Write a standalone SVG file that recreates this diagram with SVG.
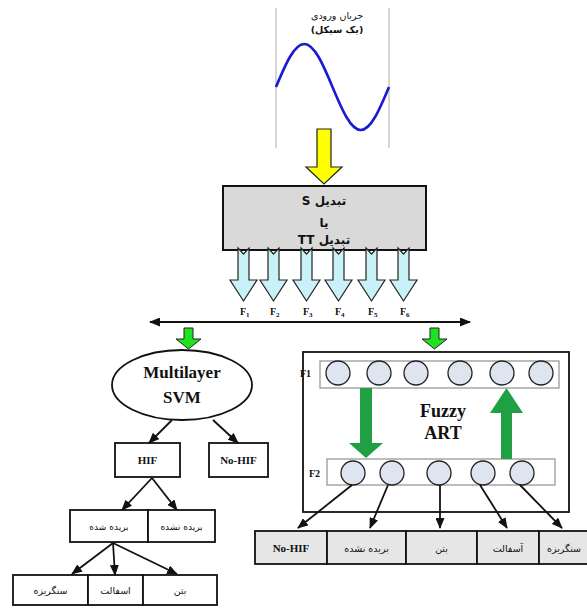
<svg xmlns="http://www.w3.org/2000/svg" width="587" height="609" viewBox="0 0 587 609">
<style>
.lat{font-family:"Liberation Serif","Times New Roman",serif;font-weight:bold;fill:#111}
.fa{font-family:"DejaVu Sans","Noto Sans",sans-serif;fill:#111}
.box{fill:#fff;stroke:#111;stroke-width:1.8}
.gbox{fill:#e6e6e6;stroke:#111;stroke-width:1.8}
.conn{stroke:#111;stroke-width:1.8;fill:none}
.circ{fill:#dfe5f0;stroke:#222;stroke-width:1.3}
.strip{fill:#fff;stroke:#999;stroke-width:1.3}
.barrow{fill:#c9f1f8;stroke:#222;stroke-width:1.2}
.garrow{fill:#22e022;stroke:#222;stroke-width:1}
.bigg{fill:#1fa143}
</style>
<defs>
<marker id="ah" markerWidth="11" markerHeight="9" refX="10" refY="4.5" orient="auto" markerUnits="userSpaceOnUse">
<path d="M0,0 L11,4.5 L0,9 Z" fill="#111"/>
</marker>
<marker id="ahs" markerWidth="11" markerHeight="9" refX="1" refY="4.5" orient="auto" markerUnits="userSpaceOnUse">
<path d="M11,0 L0,4.5 L11,9 Z" fill="#111"/>
</marker>
</defs>
<rect width="587" height="609" fill="#fff"/>

<g id="input">
<line x1="276" y1="8" x2="276" y2="148" stroke="#bbb" stroke-width="1.2"/>
<line x1="389" y1="8" x2="389" y2="148" stroke="#bbb" stroke-width="1.2"/>
<path d="M276,87 C285.21,64.97 294.03,44 304.25,44 C314.47,44 323.29,64.97 332.5,87 C341.71,109.03 350.53,130 360.75,130 C370.97,130 379.79,109.03 389,87" fill="none" stroke="#1a1ad0" stroke-width="2.6"/>
<text class="fa" x="337" y="19" font-size="9.5" text-anchor="middle" direction="rtl">جریان ورودی</text>
<text class="fa" x="337" y="33" font-size="9.5" font-weight="bold" text-anchor="middle" direction="rtl">(یک سیکل)</text>
</g>

<g id="yellow-arrow">
<path d="M317,129 L331,129 L331,167 L342,167 L324,184 L306,167 L317,167 Z" fill="#ffff00" stroke="#222" stroke-width="1.2"/>
</g>

<g id="transform">
<rect x="223" y="186" width="203" height="64" fill="#d9d9d9" stroke="#111" stroke-width="2"/>
<text class="fa" x="324" y="205" font-size="12" font-weight="bold" text-anchor="middle" direction="rtl">تبدیل S</text>
<text class="fa" x="324" y="227" font-size="12" font-weight="bold" text-anchor="middle" direction="rtl">یا</text>
<text class="fa" x="324" y="244" font-size="12" font-weight="bold" text-anchor="middle" direction="rtl">تبدیل TT</text>
</g>

<g id="features">
<g class="barrow">
<path d="M238,248 L243.5,254 L249,248 L249,280 L257,280 L243.5,301 L230,280 L238,280 Z"/>
<path d="M268,248 L273.5,254 L279,248 L279,280 L287,280 L273.5,301 L260,280 L268,280 Z"/>
<path d="M301,248 L306.5,254 L312,248 L312,280 L320,280 L306.5,301 L293,280 L301,280 Z"/>
<path d="M333,248 L338.5,254 L344,248 L344,280 L352,280 L338.5,301 L325,280 L333,280 Z"/>
<path d="M366,248 L371.5,254 L377,248 L377,280 L385,280 L371.5,301 L358,280 L366,280 Z"/>
<path d="M398,248 L403.5,254 L409,248 L409,280 L417,280 L403.5,301 L390,280 L398,280 Z"/>
</g>
<text class="lat" x="240" y="315" font-size="10">F<tspan font-size="7" dy="2">1</tspan></text>
<text class="lat" x="270" y="315" font-size="10">F<tspan font-size="7" dy="2">2</tspan></text>
<text class="lat" x="303" y="315" font-size="10">F<tspan font-size="7" dy="2">3</tspan></text>
<text class="lat" x="335" y="315" font-size="10">F<tspan font-size="7" dy="2">4</tspan></text>
<text class="lat" x="368" y="315" font-size="10">F<tspan font-size="7" dy="2">5</tspan></text>
<text class="lat" x="400" y="315" font-size="10">F<tspan font-size="7" dy="2">6</tspan></text>
</g>

<g id="svm">
<path class="garrow" d="M184,328 L193,328 L193,339 L201,339 L188.5,349 L176,339 L184,339 Z"/>
<ellipse cx="182" cy="385" rx="70" ry="35" class="box"/>
<text class="lat" x="182" y="378" font-size="17" text-anchor="middle">Multilayer</text>
<text class="lat" x="182" y="403" font-size="17" text-anchor="middle">SVM</text>
</g>

<g id="hif">
<rect x="115" y="443" width="65" height="34" class="box"/>
<text class="lat" x="147.5" y="464" font-size="11" text-anchor="middle">HIF</text>
</g>
<g id="nohif">
<rect x="209" y="443" width="59" height="34" class="box"/>
<text class="lat" x="238.5" y="464" font-size="11" text-anchor="middle">No-HIF</text>
</g>

<g id="cut-row">
<rect x="70" y="510" width="78" height="32" class="box"/>
<rect x="148" y="510" width="67" height="32" class="box"/>
<text class="fa" x="109" y="530" font-size="9" text-anchor="middle" direction="rtl">بریده شده</text>
<text class="fa" x="181.5" y="530" font-size="9" text-anchor="middle" direction="rtl">بریده نشده</text>
</g>

<g id="surface-row">
<rect x="13" y="575" width="75" height="30" class="box"/>
<rect x="88" y="575" width="55" height="30" class="box"/>
<rect x="143" y="575" width="74" height="30" class="box"/>
<text class="fa" x="50.5" y="594" font-size="9.5" text-anchor="middle" direction="rtl">سنگریزه</text>
<text class="fa" x="115.5" y="594" font-size="9.5" text-anchor="middle" direction="rtl">اسفالت</text>
<text class="fa" x="180" y="594" font-size="9.5" text-anchor="middle" direction="rtl">بتن</text>
</g>

<g id="fuzzy-art">
<path class="garrow" d="M430,328 L439,328 L439,339 L447,339 L434.5,349 L422,339 L430,339 Z"/>
<rect x="303" y="352" width="266" height="160" class="box"/>
<rect x="320" y="361" width="239" height="27" class="strip"/>
<rect x="327" y="459" width="228" height="26" class="strip"/>
<text class="lat" x="300" y="377" font-size="10">F1</text>
<text class="lat" x="309" y="477" font-size="10">F2</text>
<circle cx="338" cy="373" r="12" class="circ"/>
<circle cx="379" cy="373" r="12" class="circ"/>
<circle cx="416" cy="373" r="12" class="circ"/>
<circle cx="460" cy="373" r="12" class="circ"/>
<circle cx="502" cy="373" r="12" class="circ"/>
<circle cx="541" cy="373" r="12" class="circ"/>
<circle cx="353" cy="473" r="12" class="circ"/>
<circle cx="392" cy="473" r="12" class="circ"/>
<circle cx="439" cy="473" r="12" class="circ"/>
<circle cx="483" cy="473" r="12" class="circ"/>
<circle cx="522" cy="473" r="12" class="circ"/>
<path class="bigg" d="M360,388 L372,388 L372,443 L383,443 L366,458 L349,443 L360,443 Z"/>
<path class="bigg" d="M501,459 L512,459 L512,413 L523,413 L506.5,388 L490,413 L501,413 Z"/>
<text class="lat" x="443" y="417" font-size="18" text-anchor="middle">Fuzzy</text>
<text class="lat" x="443" y="439" font-size="18" text-anchor="middle">ART</text>
</g>

<g id="output-table">
<rect x="255" y="531" width="72" height="33" class="gbox"/>
<rect x="327" y="531" width="79" height="33" class="gbox"/>
<rect x="406" y="531" width="71" height="33" class="gbox"/>
<rect x="477" y="531" width="62" height="33" class="gbox"/>
<rect x="539" y="531" width="52" height="33" class="gbox"/>
<text class="lat" x="291" y="552" font-size="11" text-anchor="middle">No-HIF</text>
<text class="fa" x="366.5" y="552" font-size="9.5" text-anchor="middle" direction="rtl">بریده نشده</text>
<text class="fa" x="441.5" y="552" font-size="9.5" text-anchor="middle" direction="rtl">بتن</text>
<text class="fa" x="508" y="552" font-size="9.5" text-anchor="middle" direction="rtl">آسفالت</text>
<text class="fa" x="564" y="552" font-size="9.5" text-anchor="middle" direction="rtl">سنگریزه</text>
</g>

<g id="connectors">
<line class="conn" x1="150" y1="322" x2="470" y2="322" marker-start="url(#ahs)" marker-end="url(#ah)"/>
<line class="conn" x1="172" y1="420" x2="149" y2="443" marker-end="url(#ah)"/>
<line class="conn" x1="213" y1="420" x2="238" y2="443" marker-end="url(#ah)"/>
<line class="conn" x1="152" y1="478" x2="122" y2="510" marker-end="url(#ah)"/>
<line class="conn" x1="152" y1="478" x2="177" y2="510" marker-end="url(#ah)"/>
<line class="conn" x1="113" y1="543" x2="72" y2="574" marker-end="url(#ah)"/>
<line class="conn" x1="113" y1="543" x2="115" y2="575" marker-end="url(#ah)"/>
<line class="conn" x1="113" y1="543" x2="177" y2="574" marker-end="url(#ah)"/>
<line class="conn" x1="352" y1="485" x2="298" y2="528" marker-end="url(#ah)"/>
<line class="conn" x1="388" y1="485" x2="370" y2="528" marker-end="url(#ah)"/>
<line class="conn" x1="440" y1="485" x2="440" y2="528" marker-end="url(#ah)"/>
<line class="conn" x1="480" y1="485" x2="507" y2="528" marker-end="url(#ah)"/>
<line class="conn" x1="520" y1="485" x2="562" y2="528" marker-end="url(#ah)"/>
</g>
</svg>
